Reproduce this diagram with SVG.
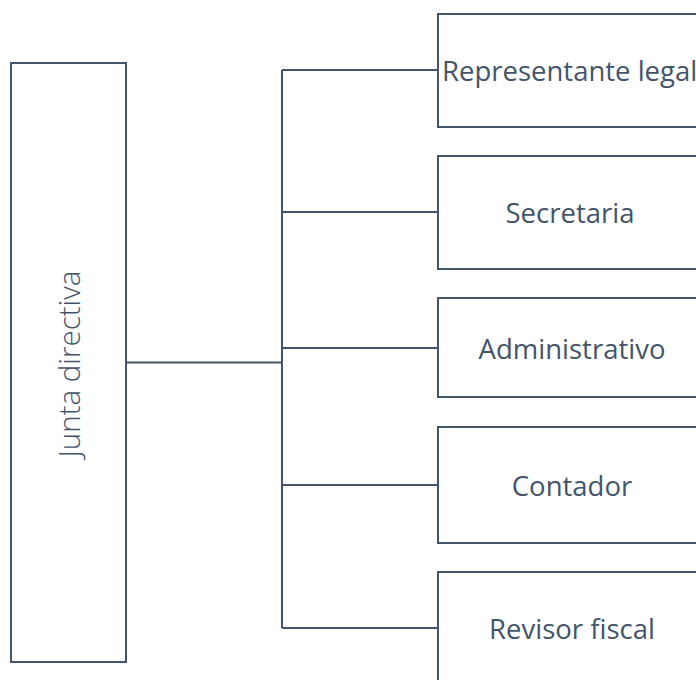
<svg xmlns="http://www.w3.org/2000/svg" width="696" height="680" viewBox="0 0 696 680">
  <style>
    .box { fill: #ffffff; stroke: #44546a; stroke-width: 2; }
    .wire { fill: none; stroke: #44546a; stroke-width: 2; }
    .lbl { font-family: "Open Sans", "Liberation Sans", sans-serif; font-size: 27.5px; fill: #44546a; text-anchor: middle; dominant-baseline: central; }
    .thin { font-size: 29.5px; font-weight: 300; }
  </style>
  <rect width="696" height="680" fill="#ffffff"/>
  <g id="connectors">
    <path class="wire" d="M126 362.5 H282" stroke-width="3" stroke="#333f50"/>
    <path class="wire" d="M282 70 V628"/>
    <path class="wire" d="M282 70 H438"/>
    <path class="wire" d="M282 212 H438"/>
    <path class="wire" d="M282 348 H438"/>
    <path class="wire" d="M282 485 H438"/>
    <path class="wire" d="M282 628 H438"/>
  </g>
  <g id="junta-directiva">
    <rect class="box" x="11" y="63" width="115" height="599"/>
    <text class="lbl thin" transform="translate(68 364) rotate(-90)">Junta directiva</text>
  </g>
  <g id="representante-legal">
    <rect class="box" x="438" y="14" width="270" height="113"/>
    <text class="lbl" x="442" y="70" style="text-anchor:start">Representante legal</text>
  </g>
  <g id="secretaria">
    <rect class="box" x="438" y="156" width="270" height="113"/>
    <text class="lbl" x="570" y="212">Secretaria</text>
  </g>
  <g id="administrativo">
    <rect class="box" x="438" y="298" width="270" height="99"/>
    <text class="lbl" x="572" y="348">Administrativo</text>
  </g>
  <g id="contador">
    <rect class="box" x="438" y="427" width="270" height="116"/>
    <text class="lbl" x="572" y="485">Contador</text>
  </g>
  <g id="revisor-fiscal">
    <rect class="box" x="438" y="572" width="270" height="120"/>
    <text class="lbl" x="572" y="628">Revisor fiscal</text>
  </g>
</svg>
